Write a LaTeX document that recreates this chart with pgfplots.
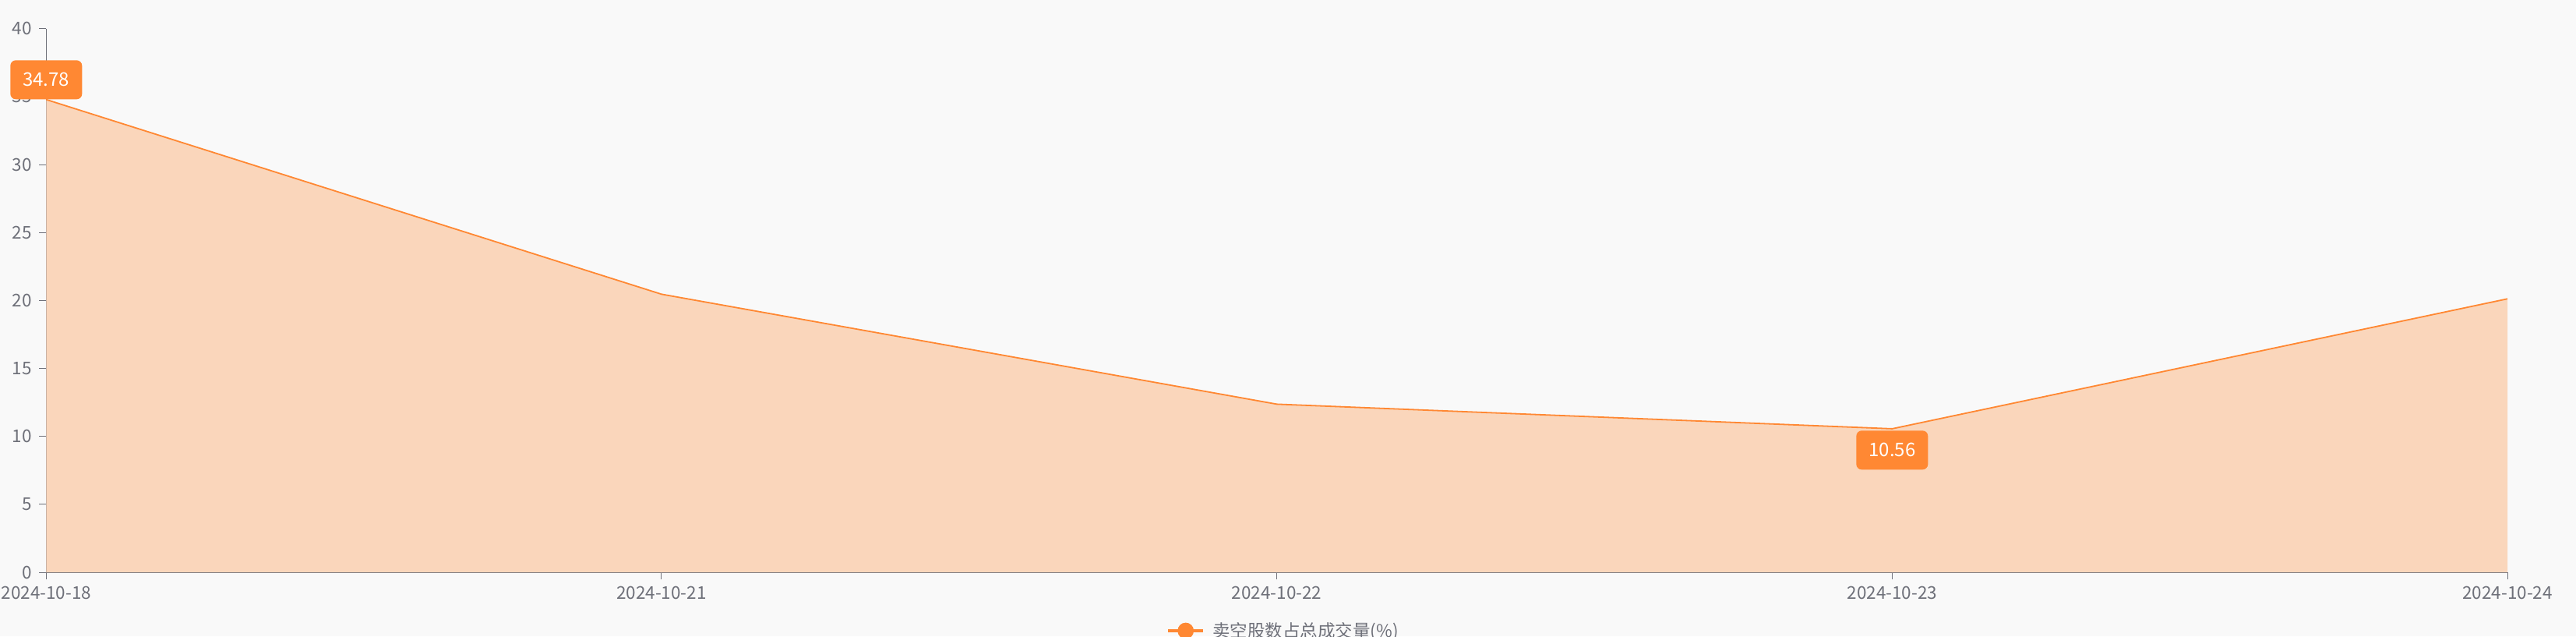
\documentclass[border=0pt]{standalone}
\usepackage{fontspec}
\setmainfont{Noto Sans CJK SC}
\usepackage{pgfplots}
\pgfplotsset{compat=1.18}

\definecolor{bgc}{HTML}{F9F9F9}
\definecolor{lineor}{HTML}{FF8833}
\definecolor{fillor}{HTML}{FAD6BB}
\definecolor{axgray}{HTML}{6E7079}

\begin{document}
\begin{tikzpicture}
% page = 3306 x 816 px at 0.5pt per px
\useasboundingbox (-29.65pt,-41pt) rectangle (1623.35pt,367pt);
\fill[bgc] (-29.65pt,-41pt) rectangle (1623.35pt,367pt);
\begin{axis}[
    scale only axis,
    width=1579.35pt,
    height=348.65pt,
    at={(0,0)}, anchor=south west,
    clip=false,
    xmin=0, xmax=4,
    ymin=0, ymax=40,
    xtick={0,1,2,3,4},
    xticklabels={2024-10-18,2024-10-21,2024-10-22,2024-10-23,2024-10-24},
    ytick={0,5,10,15,20,25,30,35,40},
    axis x line*=bottom,
    axis y line*=left,
    axis line style={-, axgray, line width=0.5pt},
    tick style={axgray, line width=0.5pt},
    tick align=outside,
    major tick length=4.5pt,
    /pgf/number format/assume math mode=true,
    tick label style={font=\fontsize{11.25}{13}\selectfont, text=axgray},
    yticklabel style={inner sep=0pt, xshift=-4.6pt},
    xticklabel style={inner sep=0pt, yshift=-4.5pt},
    legend style={at={(0.4551,-0.1076)}, anchor=west, draw=none, fill=none,
        inner sep=0pt, font=\fontsize{11.25}{13}\selectfont, text=axgray,
        nodes={inner sep=0pt}, column sep=5pt},
    legend image code/.code={
        \draw[lineor, line width=2pt] (0pt,0pt) -- (22.5pt,0pt);
        \fill[lineor] (11.25pt,0pt) circle (4.75pt);
    },
]
\addplot[draw=none, fill=fillor, forget plot]
    coordinates {(0,34.78) (1,20.46) (2,12.37) (3,10.56) (4,20.12)} \closedcycle;
\addplot[lineor, line width=0.9pt, mark=none]
    coordinates {(0,34.78) (1,20.46) (2,12.37) (3,10.56) (4,20.12)};
\addlegendentry{卖空股数占总成交量(\%)}
% max and min labels
\addplot[draw=none, forget plot, nodes near coords, point meta=explicit symbolic,
    nodes near coords style={anchor=south, fill=lineor, text=white, rounded corners=3.5pt,
        minimum width=46pt, minimum height=25pt, inner sep=0pt,
        font=\fontsize{12}{14}\selectfont}]
    coordinates {(0,34.78) [34.78]};
\addplot[draw=none, forget plot, nodes near coords, point meta=explicit symbolic,
    nodes near coords style={anchor=north, yshift=-1pt, fill=lineor, text=white, rounded corners=3.5pt,
        minimum width=46pt, minimum height=25pt, inner sep=0pt,
        font=\fontsize{12}{14}\selectfont}]
    coordinates {(3,10.56) [10.56]};
\end{axis}
\end{tikzpicture}
\end{document}
